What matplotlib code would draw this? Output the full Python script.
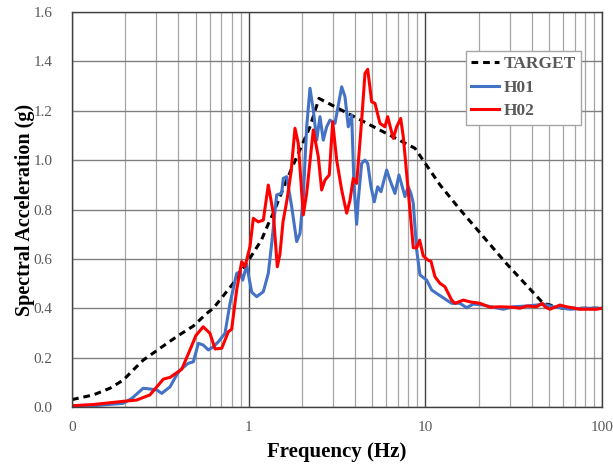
import matplotlib
matplotlib.use('Agg')
import matplotlib.pyplot as plt
from matplotlib.ticker import FixedLocator, FixedFormatter, LogLocator, NullFormatter

plt.rcParams['font.family'] = ['Liberation Serif', 'DejaVu Serif']

# ── Target spectrum ──
target_f = [0.1, 0.132, 0.164, 0.195, 0.222, 0.253, 0.315, 0.391, 0.486, 0.578,
            0.631, 0.818, 1.0, 1.18, 1.319, 1.378, 1.641, 2.223, 2.5, 8.73,
            12.09, 15.7, 28.84, 46.48, 60.0, 100.0]
target_g = [0.03, 0.049, 0.076, 0.109, 0.15, 0.19, 0.238, 0.285, 0.328, 0.379,
            0.40, 0.501, 0.595, 0.676, 0.757, 0.785, 0.92, 1.135, 1.25, 1.048,
            0.90, 0.80, 0.58, 0.42, 0.40, 0.40]

# ── H01 response spectrum ──
h01_f = [0.1, 0.132, 0.195, 0.218, 0.253, 0.283, 0.302, 0.322, 0.359, 0.391,
         0.409, 0.455, 0.486, 0.519, 0.553, 0.591, 0.631, 0.673, 0.734, 0.784,
         0.855, 0.893, 0.925, 0.974, 1.040, 1.110, 1.210, 1.291, 1.350, 1.440,
         1.537, 1.570, 1.641, 1.752, 1.869, 1.951, 2.037, 2.129, 2.223, 2.321,
         2.426, 2.532, 2.643, 2.763, 2.884, 3.079, 3.360, 3.508, 3.662, 3.827,
         3.944, 4.085, 4.171, 4.360, 4.552, 4.716, 4.923, 5.138, 5.370, 5.606,
         6.039, 6.305, 6.729, 7.090, 7.403, 7.666, 8.001, 8.287, 8.543, 8.929,
         9.321, 10.17, 10.86, 11.58, 12.36, 13.20, 14.09, 15.70, 17.13, 18.67,
         21.27, 24.23, 27.60, 31.44, 37.45, 42.66, 46.48, 52.95, 65.84, 81.82,
         100.0]
h01_g = [0.003, 0.005, 0.015, 0.035, 0.076, 0.072, 0.069, 0.055, 0.082, 0.13,
         0.15, 0.177, 0.183, 0.258, 0.251, 0.231, 0.244, 0.264, 0.298, 0.42,
         0.541, 0.548, 0.514, 0.575, 0.465, 0.447, 0.467, 0.541, 0.663, 0.859,
         0.866, 0.926, 0.933, 0.811, 0.67, 0.703, 0.852, 1.135, 1.291, 1.203,
         1.081, 1.176, 1.081, 1.135, 1.162, 1.149, 1.297, 1.257, 1.135, 1.183,
         0.90, 0.74, 0.838, 0.987, 1.0, 0.987, 0.892, 0.831, 0.892, 0.872,
         0.96, 0.919, 0.865, 0.94, 0.892, 0.852, 0.892, 0.865, 0.825, 0.636,
         0.535, 0.514, 0.474, 0.46, 0.447, 0.433, 0.42, 0.42, 0.402, 0.417,
         0.413, 0.404, 0.396, 0.406, 0.409, 0.413, 0.417, 0.406, 0.396, 0.40,
         0.40]

# ── H02 response spectrum ──
h02_f = [0.1, 0.132, 0.195, 0.232, 0.276, 0.329, 0.359, 0.418, 0.465, 0.503,
         0.553, 0.604, 0.645, 0.704, 0.767, 0.801, 0.855, 0.913, 0.953, 1.017,
         1.062, 1.133, 1.210, 1.291, 1.378, 1.452, 1.503, 1.564, 1.648, 1.736,
         1.828, 1.908, 2.037, 2.129, 2.321, 2.477, 2.588, 2.702, 2.858, 2.988,
         3.148, 3.360, 3.586, 3.744, 3.908, 4.085, 4.360, 4.552, 4.716, 4.969,
         5.186, 5.534, 5.906, 6.117, 6.581, 6.880, 7.249, 7.499, 7.835, 8.180,
         8.543, 8.929, 9.285, 9.730, 10.34, 10.76, 11.33, 12.09, 12.91, 14.09,
         14.71, 16.39, 17.88, 20.37, 23.21, 26.44, 31.44, 34.31, 37.45, 42.66,
         45.88, 47.52, 50.72, 57.77, 63.07, 74.99, 93.2, 100.0]
h02_g = [0.005, 0.010, 0.023, 0.028, 0.049, 0.113, 0.12, 0.153, 0.231, 0.29,
         0.325, 0.298, 0.235, 0.238, 0.305, 0.315, 0.474, 0.589, 0.568, 0.65,
         0.764, 0.75, 0.757, 0.899, 0.785, 0.568, 0.62, 0.75, 0.84, 0.95,
         1.129, 1.068, 0.778, 0.866, 1.122, 1.014, 0.879, 0.919, 0.94, 1.155,
         1.0, 0.879, 0.785, 0.838, 0.926, 0.906, 1.162, 1.351, 1.368, 1.236,
         1.23, 1.149, 1.135, 1.176, 1.088, 1.135, 1.169, 1.095, 0.946, 0.798,
         0.645, 0.645, 0.676, 0.612, 0.595, 0.59, 0.528, 0.501, 0.487, 0.433,
         0.42, 0.433, 0.426, 0.42, 0.404, 0.406, 0.404, 0.40, 0.409, 0.406,
         0.42, 0.406, 0.396, 0.413, 0.406, 0.396, 0.396, 0.40]

x_ticks = [0.1, 1, 10, 100]
x_ticklabels = ['0', '1', '10', '100']
y_ticks = [0.0, 0.2, 0.4, 0.6, 0.8, 1.0, 1.2, 1.4, 1.6]

fig = plt.figure(figsize=(6.13, 4.69), dpi=100)
ax = fig.add_axes([0.1175, 0.1322, 0.8646, 0.8422])

ax.plot(target_f, target_g, color='black', lw=2.2, ls=(0, (2.2, 1.6)), label='TARGET')
ax.plot(h01_f, h01_g, color='#4472C4', lw=2.2, label='H01')
ax.plot(h02_f, h02_g, color='#FF0000', lw=2.2, label='H02')

ax.set_xscale('log')
ax.set_xlim(0.1, 100)
ax.set_ylim(0, 1.6)

ax.xaxis.set_major_locator(FixedLocator(x_ticks))
ax.xaxis.set_major_formatter(FixedFormatter(x_ticklabels))
ax.xaxis.set_minor_locator(LogLocator(base=10, subs=range(2, 10)))
ax.xaxis.set_minor_formatter(NullFormatter())
ax.set_yticks(y_ticks)
ax.set_yticklabels([f'{v:.1f}' for v in y_ticks])

ax.tick_params(which='both', length=0, labelsize=11, labelcolor='#595959')
ax.tick_params(axis='x', pad=10)
ax.tick_params(axis='y', pad=14)

# grid: dark majors, lighter minors
ax.grid(axis='y', which='major', color='#808080', lw=1.0)
ax.grid(axis='x', which='major', color='#404040', lw=1.0)
ax.grid(axis='x', which='minor', color='#a6a6a6', lw=0.9)
ax.set_axisbelow(True)

for sp in ax.spines.values():
    sp.set_color('#404040')
    sp.set_linewidth(1.0)

ax.set_xlabel('Frequency (Hz)', fontsize=15, fontweight='bold')
ax.set_ylabel('Spectral Acceleration (g)', fontsize=14.5, fontweight='bold')
ax.xaxis.set_label_coords(0.5, -0.088)
ax.yaxis.set_label_coords(-0.07, 0.5)

leg = ax.legend(loc='upper right', bbox_to_anchor=(0.960, 0.901), borderaxespad=0,
                fancybox=False, framealpha=1, edgecolor='#a6a6a6', handlelength=1.6,
                borderpad=0.3, labelspacing=0.42, handletextpad=0.25,
                prop={'size': 12.5, 'weight': 'bold'})
for t in leg.get_texts():
    t.set_color('#595959')
leg.get_frame().set_linewidth(1.0)

fig.savefig('out.png', dpi=100)
